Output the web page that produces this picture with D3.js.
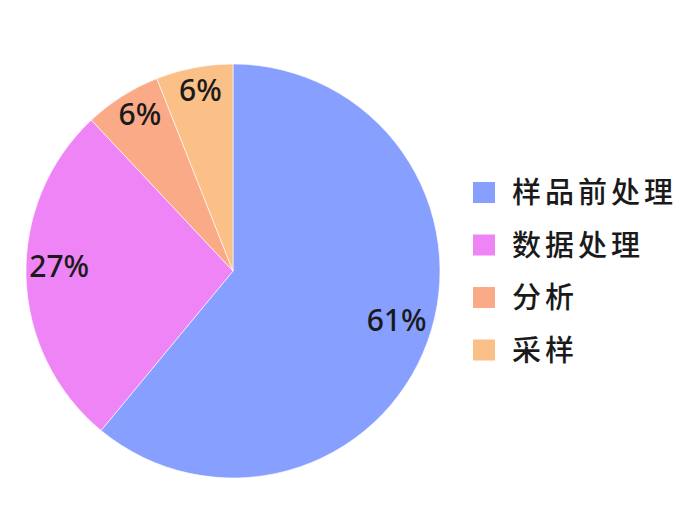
<!DOCTYPE html>
<html><head><meta charset="utf-8">
<script src="https://cdn.jsdelivr.net/npm/d3@7"></script>
<style>body{margin:0;background:#fff}</style>
</head><body>
<svg id="c" width="692" height="506"></svg>
<script>
const categories = ["样品前处理", "数据处理", "分析", "采样"];
const values = [61, 27, 6, 6];
const colors = ["#879fff", "#ee84f6", "#fbaa88", "#fbbf88"];

const svg = d3.select("#c");
const cx = 233, cy = 271, R = 207;
const g = svg.append("g").attr("transform", `translate(${cx},${cy})`);
const pie = d3.pie().sort(null).value(d => d)(values);
const arc = d3.arc().innerRadius(0).outerRadius(R);
g.selectAll("path").data(pie).join("path")
  .attr("d", arc)
  .attr("fill", (d, i) => colors[i])
  .attr("stroke", "#fff").attr("stroke-width", 1).attr("stroke-opacity", 0.6);

const labelArc = d3.arc().innerRadius(R * 0.84).outerRadius(R * 0.84);
g.selectAll("text").data(pie).join("text")
  .attr("transform", d => { const c = labelArc.centroid(d); return `translate(${c[0]},${c[1] - 10})`; })
  .attr("text-anchor", "middle").attr("dy", "0.36em")
  .attr("font-family", "'Noto Sans', sans-serif").attr("font-size", 30).attr("font-weight", 500)
  .attr("fill", "#1a1a1a")
  .text(d => Math.round(d.data / d3.sum(values) * 100) + "%");

const leg = svg.append("g").attr("transform", "translate(473,182)");
const rows = leg.selectAll("g").data(categories).join("g")
  .attr("transform", (d, i) => `translate(0,${i * 52.5})`);
rows.append("rect").attr("width", 22).attr("height", 21).attr("fill", (d, i) => colors[i]);
rows.append("text").attr("x", 39).attr("y", 11).attr("dy", "0.36em")
  .attr("font-family", "'Noto Sans CJK SC', sans-serif").attr("font-size", 29).attr("font-weight", 500)
  .attr("letter-spacing", 4)
  .attr("fill", "#1a1a1a").text(d => d);
</script>
</body></html>
